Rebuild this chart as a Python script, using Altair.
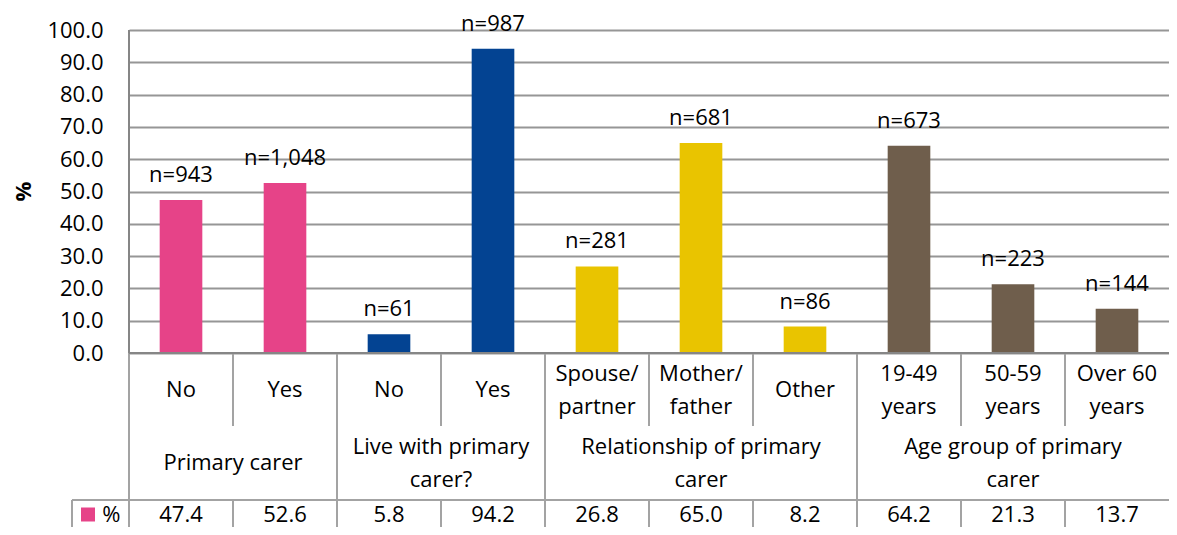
import altair as alt
import pandas as pd

# ---------------- data ----------------
categories = ["No", "Yes", "No", "Yes", "Spouse/\npartner", "Mother/\nfather", "Other",
              "19-49\nyears", "50-59\nyears", "Over 60\nyears"]
values = [47.4, 52.6, 5.8, 94.2, 26.8, 65.0, 8.2, 64.2, 21.3, 13.7]
n_labels = ["n=943", "n=1,048", "n=61", "n=987", "n=281", "n=681", "n=86",
            "n=673", "n=223", "n=144"]
group_names = ["Primary carer", "Live with primary\ncarer?",
               "Relationship of primary\ncarer", "Age group of primary\ncarer"]
group_sizes = [2, 2, 3, 3]
group_colors = ["#E64388", "#034392", "#E9C400", "#6F5E4C"]
y_ticks = [0, 10, 20, 30, 40, 50, 60, 70, 80, 90, 100]

# ---------------- layout constants ----------------
FONT = "Open Sans"
FS = 22
LH = 33
PLOT_W = 1040
PLOT_H = 497
PX_PER_UNIT = 3.23
YMIN = 100 - PLOT_H / PX_PER_UNIT
SUB_Y = -11.46     # centre of sub-category labels
ROW1_B = -22.6     # bottom of first table row (inner dividers)
GRP_Y = -34.06     # centre of group labels
ROW2_B = -45.5     # bottom of second table row
DATA_Y = -50.0     # centre of data-table values
TABLE_L = -0.548   # left edge of data table row (in category units)

N = len(categories)


def first_line_y(center, text):
    n = text.count("\n") + 1
    return center + (n - 1) * LH / 2 / PX_PER_UNIT


group_of = []
for g, s in enumerate(group_sizes):
    group_of += [g] * s

bars = pd.DataFrame({
    "i": list(range(N)),
    "cat": categories,
    "value": values,
    "nlab": n_labels,
    "color": [group_colors[g] for g in group_of],
})
bars["center"] = bars["i"] + 0.5
bars["left"] = bars["i"] + 0.295
bars["right"] = bars["i"] + 0.705
bars["vtext"] = [f"{v:.1f}" for v in values]
bars["sub_y"] = [first_line_y(SUB_Y, c) for c in categories]
bars["data_y"] = DATA_Y
bars["zero"] = 0.0

starts = []
acc = 0
for s in group_sizes:
    starts.append(acc)
    acc += s
groups = pd.DataFrame({
    "name": group_names,
    "center": [st + s / 2 for st, s in zip(starts, group_sizes)],
    "y": [first_line_y(GRP_Y, g) for g in group_names],
})

# table dividers (the right-hand edge of the table falls outside the picture)
segs = []
for b in starts:
    segs.append(dict(x=b, x2=b, y=0, y2=ROW2_B))
for k in range(N):
    if k not in starts:
        segs.append(dict(x=k, x2=k, y=0, y2=ROW1_B))
for k in list(range(N)) + [TABLE_L]:
    segs.append(dict(x=k, x2=k, y=ROW2_B, y2=YMIN))
segs.append(dict(x=TABLE_L, x2=N, y=ROW2_B, y2=ROW2_B))
segs = pd.DataFrame(segs)

axis_lines = pd.DataFrame([
    dict(x=0, x2=N, y=0, y2=0),
    dict(x=0, x2=0, y=0, y2=100),
])

legend = pd.DataFrame({"x": [TABLE_L + 0.154], "tx": [TABLE_L + 0.29],
                       "y": [DATA_Y], "t": ["%"]})

# ---------------- scales / axes ----------------
xs = alt.Scale(domain=[0, N], nice=False, zero=False)
ys = alt.Scale(domain=[YMIN, 100], nice=False, zero=False)
yaxis = alt.Axis(values=y_ticks, format=".1f", grid=True, gridColor="#969696",
                 gridWidth=2, domain=False, ticks=False, labelFont=FONT,
                 labelFontSize=FS, labelColor="black", labelPadding=26,
                 title="%", titleFont=FONT, titleFontSize=22, titleFontWeight="bold",
                 titleColor="black", titleAngle=-90, titleX=-106, titleY=161,
                 titleAlign="center", titleBaseline="middle")


def X(f):
    return alt.X(f, type="quantitative", scale=xs, axis=None)


def Y(f):
    return alt.Y(f, type="quantitative", scale=ys, axis=yaxis)


bar_layer = alt.Chart(bars).mark_bar().encode(
    x=X("left"), x2="right", y=Y("value"), y2="zero",
    color=alt.Color("color:N", scale=None),
)

nlab_layer = alt.Chart(bars).mark_text(
    font=FONT, fontSize=FS, color="black", baseline="alphabetic", dy=-18
).encode(x=X("center"), y=Y("value"), text="nlab:N")

line_layer = alt.Chart(segs).mark_rule(color="#a3a3a3", strokeWidth=2).encode(
    x=X("x"), x2="x2", y=Y("y"), y2="y2"
)

axisline_layer = alt.Chart(axis_lines).mark_rule(color="#868686", strokeWidth=2).encode(
    x=X("x"), x2="x2", y=Y("y"), y2="y2"
)

sub_layer = alt.Chart(bars).mark_text(
    font=FONT, fontSize=FS, color="black", baseline="middle", lineBreak="\n",
    lineHeight=LH
).encode(x=X("center"), y=Y("sub_y"), text="cat:N")

grp_layer = alt.Chart(groups).mark_text(
    font=FONT, fontSize=FS, color="black", baseline="middle", lineBreak="\n",
    lineHeight=LH
).encode(x=X("center"), y=Y("y"), text="name:N")

val_layer = alt.Chart(bars).mark_text(
    font=FONT, fontSize=FS, color="black", baseline="middle"
).encode(x=X("center"), y=Y("data_y"), text="vtext:N")

leg_sq = alt.Chart(legend).mark_square(color="#E64388", size=196, opacity=1).encode(
    x=X("x"), y=Y("y")
)
leg_tx = alt.Chart(legend).mark_text(
    font=FONT, fontSize=FS, color="black", baseline="middle", align="left"
).encode(x=X("tx"), y=Y("y"), text="t:N")

chart = alt.layer(
    bar_layer, line_layer, axisline_layer, nlab_layer, sub_layer, grp_layer,
    val_layer, leg_sq, leg_tx
).properties(
    width=PLOT_W, height=PLOT_H,
    padding={"left": 121, "top": 22, "right": 0, "bottom": 0},
    autosize=alt.AutoSizeParams(type="none"),
).configure_view(stroke=None).configure(background="white")

chart.save("out.html", embed_options={"renderer": "svg", "actions": False})
